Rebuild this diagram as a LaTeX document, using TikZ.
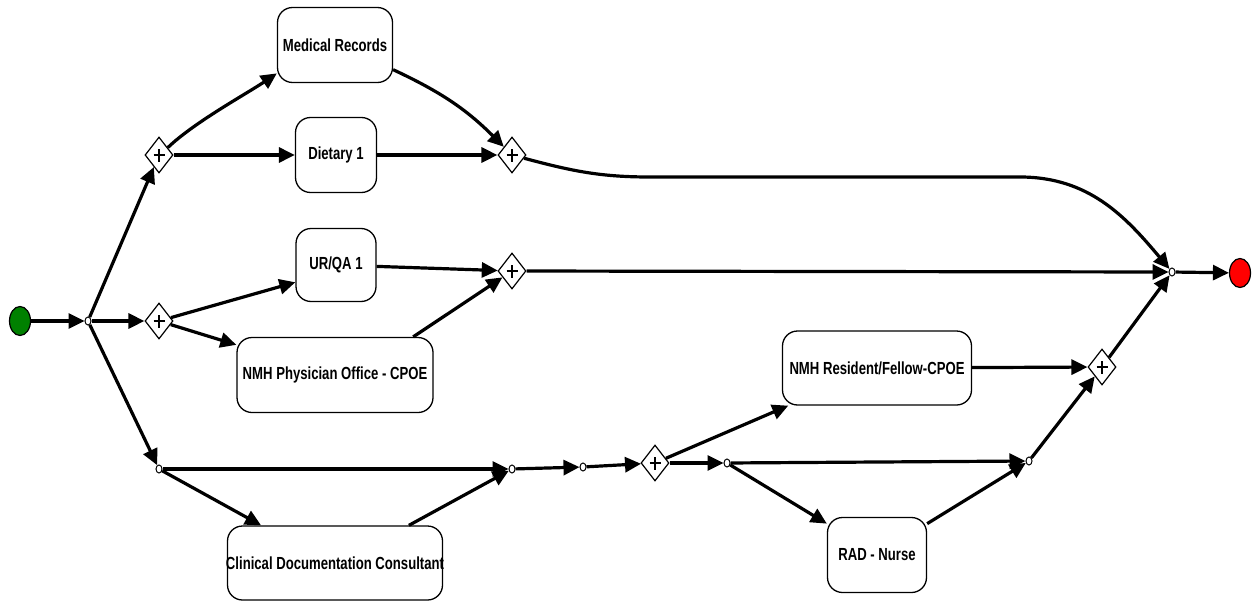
\documentclass[tikz,border=0pt]{standalone}
\usepackage{fontspec}
\newfontfamily\lblfont[FakeStretch=0.75]{Liberation Sans}
\usetikzlibrary{arrows.meta,shapes.geometric}
\tikzset{
  task/.style={draw, line width=1.3pt, rounded corners=15pt, inner sep=0pt,
    font=\lblfont\bfseries\fontsize{17.5}{20}\selectfont},
  gate/.style={draw, diamond, line width=1.2pt, fill=white, inner sep=0pt,
    minimum width=28pt, minimum height=36pt,
    path picture={
      \draw[line width=2.8pt] ([xshift=-5.5pt]path picture bounding box.center) -- ([xshift=5.5pt]path picture bounding box.center);
      \draw[line width=2.8pt] ([yshift=-6.5pt]path picture bounding box.center) -- ([yshift=6.5pt]path picture bounding box.center);
    }},
  junc/.style={draw, ellipse, line width=1pt, fill=white, inner sep=0pt,
    minimum width=6pt, minimum height=8pt},
  flow/.style={line width=3.2pt, -{Triangle[length=16pt,width=15pt]}}
}
\begin{document}
\begin{tikzpicture}[x=1pt,y=1pt]
\useasboundingbox (0,0) rectangle (1252,-602);
% events
\node[draw, ellipse, line width=1.2pt, fill=green!50!black, minimum width=21pt, minimum height=29pt, inner sep=0pt] (start) at (20,-321) {};
\node[draw, ellipse, line width=1.2pt, fill=red, minimum width=21pt, minimum height=29pt, inner sep=0pt] (end) at (1240,-273) {};
% junctions
\node[junc] (j1) at (88,-321) {};
\node[junc] (j2) at (159,-469) {};
\node[junc] (j3) at (512,-469) {};
\node[junc] (j4) at (583,-467) {};
\node[junc] (j5) at (727,-463) {};
\node[junc] (j6) at (1029,-461) {};
\node[junc] (j7) at (1172,-272) {};
% gateways
\node[gate] (g1) at (159,-155) {};
\node[gate] (g2) at (159,-321) {};
\node[gate] (g3) at (512,-155) {};
\node[gate] (g4) at (512,-271) {};
\node[gate] (g5) at (655,-463) {};
\node[gate] (g6) at (1102,-367) {};
% tasks
\node[task, minimum width=115pt, minimum height=75pt] (mr) at (335,-45) {\makebox[0pt]{Medical Records}};
\node[task, minimum width=81pt, minimum height=75pt] (diet) at (336,-155) {\makebox[0pt]{Dietary 1}};
\node[task, minimum width=80pt, minimum height=73pt] (urqa) at (336,-265) {\makebox[0pt]{UR/QA 1}};
\node[task, minimum width=196pt, minimum height=75pt] (nmhp) at (335,-375) {\makebox[0pt]{NMH Physician Office - CPOE}};
\node[task, minimum width=215pt, minimum height=74pt] (cdc) at (335,-563) {\makebox[0pt]{Clinical Documentation Consultant}};
\node[task, minimum width=189pt, minimum height=74pt] (nmhr) at (877,-368) {\makebox[0pt]{NMH Resident/Fellow-CPOE}};
\node[task, minimum width=99pt, minimum height=75pt] (rad) at (877,-555) {\makebox[0pt]{RAD - Nurse}};
% helper coordinates for the long curve
\coordinate (c1) at (650,-177);
\coordinate (c2) at (1020,-177);
% connectors
\draw[flow] (start) -- (j1);
\draw[flow] (j1) -- (g1);
\draw[flow] (j1) -- (g2);
\draw[flow] (j1) -- (j2);
\draw[flow] (g1.40) to[out=44,in=214,looseness=0.7] (mr.206);
\draw[flow] (g1) -- (diet);
\draw[flow] (mr.-23) to[out=-25,in=135] (g3);
\draw[flow] (diet) -- (g3);
\draw[flow] (g3) to[out=-15,in=180] (c1) -- (c2) to[out=0,in=130] (j7);
\draw[flow] (g2) -- (urqa.203);
\draw[flow] (g2) -- (nmhp.163);
\draw[flow] (urqa) -- (g4);
\draw[flow] (nmhp.26) -- (g4);
\draw[flow] (g4) -- (j7);
\draw[flow] (j2) -- (j3);
\draw[flow] (j2) -- (cdc.153);
\draw[flow] (cdc.27) -- (j3);
\draw[flow] (j3) -- (j4);
\draw[flow] (j4) -- (g5);
\draw[flow] (g5) -- (nmhr.203);
\draw[flow] (g5) -- (j5);
\draw[flow] (j5) -- (j6);
\draw[flow] (j5) -- (rad.148);
\draw[flow] (rad.32) -- (j6);
\draw[flow] (nmhr) -- (g6);
\draw[flow] (j6) -- (g6);
\draw[flow] (g6) -- (j7);
\draw[flow] (j7) -- (end);
\end{tikzpicture}
\end{document}
